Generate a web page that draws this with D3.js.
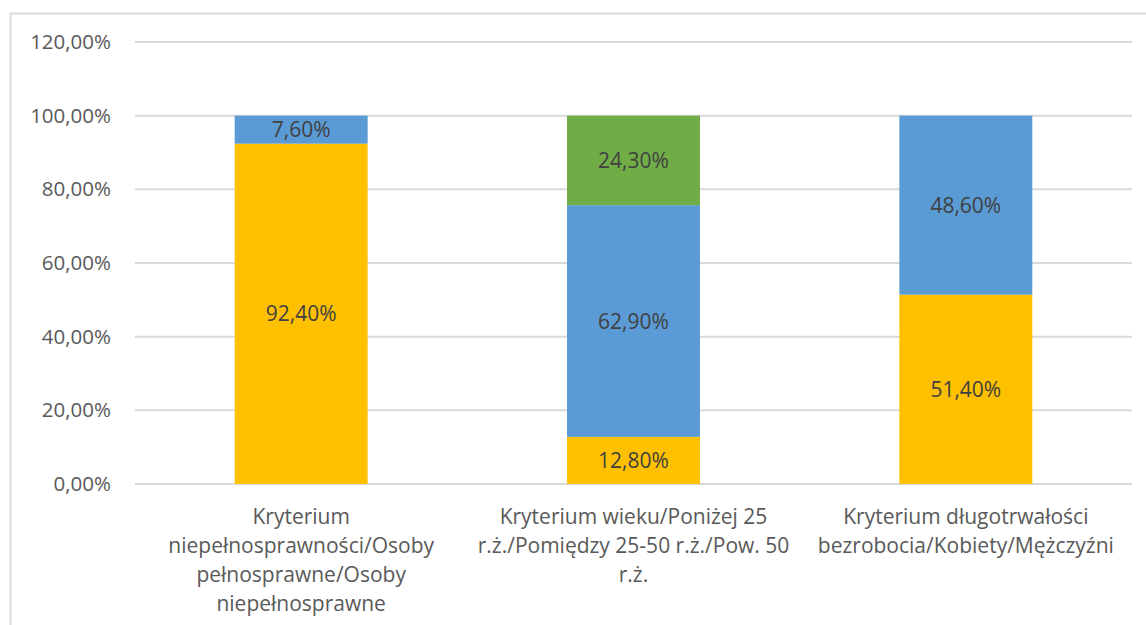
<!DOCTYPE html>
<html>
<head>
<meta charset="utf-8">
<script src="https://cdn.jsdelivr.net/npm/d3@7"></script>
<style>
  body { margin: 0; background: #fff; }
  svg { display: block; font-family: "Open Sans", "Liberation Sans", sans-serif; }
</style>
</head>
<body>
<div id="chart"></div>
<script>
// categories, each split into the lines shown under the axis
var categories = [
    ["Kryterium", "niepełnosprawności/Osoby", "pełnosprawne/Osoby", "niepełnosprawne"],
    ["Kryterium wieku/Poniżej 25", "r.ż./Pomiędzy 25-50 r.ż./Pow. 50", "r.ż."],
    ["Kryterium długotrwałości", "bezrobocia/Kobiety/Mężczyźni"]
];
var series1 = [92.4, 12.8, 51.4];   // yellow
var series2 = [7.6, 62.9, 48.6];    // blue
var series3 = [0, 24.3, 0];         // green
var yTicks = [0, 20, 40, 60, 80, 100, 120];

function init() {
    var w = 1146;
    var h = 625;
    var colors = ["#FFC000", "#5B9BD5", "#70AD47"];

    var left = 135, right = 1132, top = 42, bottom = 484;

    var rows = categories.map(function(c, i) {
        return { i: i, s0: series1[i], s1: series2[i], s2: series3[i] };
    });

    var stack = d3.stack().keys(["s0", "s1", "s2"]);
    var layers = stack(rows);

    var xScale = d3.scaleBand()
                   .domain(d3.range(categories.length))
                   .range([left, right])
                   .paddingInner(0.6)
                   .paddingOuter(0.3);

    var yScale = d3.scaleLinear()
                   .domain([0, 120])
                   .range([bottom, top]);

    var svg = d3.select("#chart")
                .append("svg")
                .attr("width", w)
                .attr("height", h);

    // chart frame (left and top edges are visible)
    svg.append("path")
       .attr("d", "M10.5," + h + "V13.5H" + w)
       .attr("fill", "none")
       .attr("stroke", "#d9d9d9")
       .attr("stroke-width", 2);

    // gridlines
    svg.append("g")
       .selectAll("line")
       .data(yTicks)
       .enter()
       .append("line")
       .attr("x1", left)
       .attr("x2", right)
       .attr("y1", function(d) { return yScale(d); })
       .attr("y2", function(d) { return yScale(d); })
       .attr("stroke", "#d9d9d9")
       .attr("stroke-width", 2);

    // y axis labels
    var yAxis = d3.axisLeft(yScale)
                  .tickValues(yTicks)
                  .tickSize(0)
                  .tickPadding(0)
                  .tickFormat(function(d) { return d3.format(".2f")(d).replace(".", ",") + "%"; });

    var gy = svg.append("g")
                .attr("transform", "translate(111,0)")
                .call(yAxis);
    gy.select(".domain").remove();
    gy.selectAll("text")
      .attr("fill", "#595959")
      .attr("font-size", "20.5px")
      .attr("font-family", "Open Sans, sans-serif");

    // bars
    var groups = svg.selectAll("g.layer")
                    .data(layers)
                    .enter()
                    .append("g")
                    .attr("class", "layer")
                    .attr("fill", function(d, i) { return colors[i]; });

    groups.selectAll("rect")
          .data(function(d) { return d; })
          .enter()
          .append("rect")
          .attr("x", function(d, i) { return xScale(i); })
          .attr("y", function(d) { return yScale(d[1]); })
          .attr("width", xScale.bandwidth())
          .attr("height", function(d) { return yScale(d[0]) - yScale(d[1]); });

    // data labels
    groups.selectAll("text")
          .data(function(d) { return d.filter(function(p) { return p[1] - p[0] > 0; }); })
          .enter()
          .append("text")
          .text(function(d) { return d3.format(".2f")(d[1] - d[0]).replace(".", ",") + "%"; })
          .attr("x", function(d) { return xScale(d.data.i) + xScale.bandwidth() / 2; })
          .attr("y", function(d) { return (yScale(d[0]) + yScale(d[1])) / 2; })
          .attr("dy", "0.36em")
          .attr("fill", "#404040")
          .attr("font-size", "21px")
          .attr("text-anchor", "middle");

    // category labels
    var xAxis = d3.axisBottom(xScale).tickSize(0).tickFormat("");
    var gx = svg.append("g")
                .attr("transform", "translate(0," + bottom + ")")
                .call(xAxis);
    gx.select(".domain").remove();

    gx.selectAll(".tick")
      .append("text")
      .attr("fill", "#595959")
      .attr("font-size", "21px")
      .attr("font-family", "Open Sans, sans-serif")
      .attr("text-anchor", "middle")
      .selectAll("tspan")
      .data(function(d) { return categories[d]; })
      .enter()
      .append("tspan")
      .attr("x", 0)
      .attr("y", function(d, i) { return 40 + i * 29; })
      .text(function(d) { return d; });
}

window.onload = init;
</script>
</body>
</html>
